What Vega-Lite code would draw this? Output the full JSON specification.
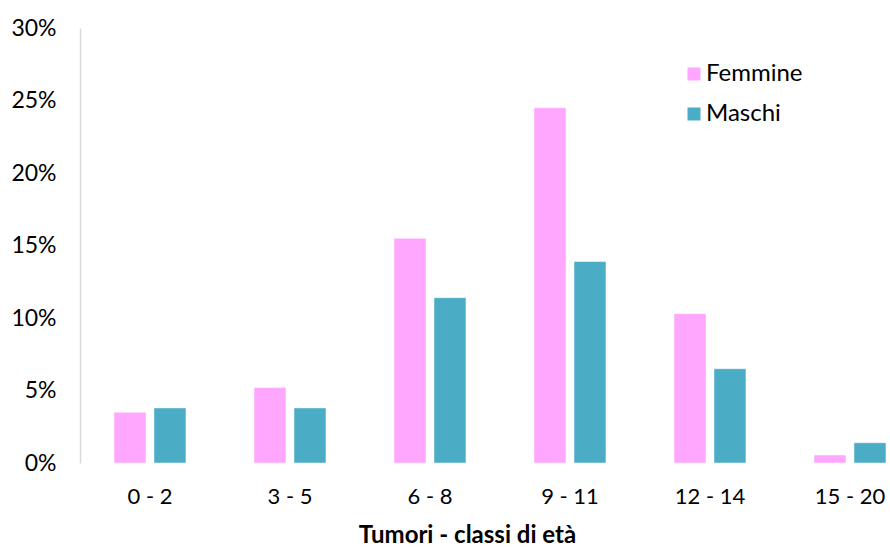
{
  "$schema": "https://vega.github.io/schema/vega-lite/v6.json",
  "autosize": "none",
  "padding": {"left": 80, "top": 28, "right": 0, "bottom": 84},
  "width": 840,
  "height": 435,
  "background": "white",
  "config": {
    "view": {"stroke": null},
    "font": "Lato",
    "axis": {"labelFont": "Lato", "titleFont": "Lato", "labelColor": "#000000", "titleColor": "#000000"}
  },
  "data": {
    "values": [
      {"classe": "0 - 2", "sesso": "Femmine", "valore": 0.035},
      {"classe": "0 - 2", "sesso": "Maschi", "valore": 0.038},
      {"classe": "3 - 5", "sesso": "Femmine", "valore": 0.052},
      {"classe": "3 - 5", "sesso": "Maschi", "valore": 0.038},
      {"classe": "6 - 8", "sesso": "Femmine", "valore": 0.155},
      {"classe": "6 - 8", "sesso": "Maschi", "valore": 0.114},
      {"classe": "9 - 11", "sesso": "Femmine", "valore": 0.245},
      {"classe": "9 - 11", "sesso": "Maschi", "valore": 0.139},
      {"classe": "12 - 14", "sesso": "Femmine", "valore": 0.103},
      {"classe": "12 - 14", "sesso": "Maschi", "valore": 0.065},
      {"classe": "15 - 20", "sesso": "Femmine", "valore": 0.0055},
      {"classe": "15 - 20", "sesso": "Maschi", "valore": 0.014}
    ]
  },
  "mark": {"type": "bar", "stroke": "#ffffff", "strokeOpacity": 0.5, "strokeWidth": 1},
  "encoding": {
    "x": {
      "field": "classe",
      "type": "nominal",
      "sort": null,
      "scale": {"paddingInner": 0.486, "paddingOuter": 0.243},
      "axis": {
        "title": "Tumori - classi di età",
        "titleFontWeight": "bold",
        "titleFontSize": 24,
        "titleX": 387,
        "titleY": 72,
        "titleAlign": "center",
        "titleBaseline": "middle",
        "labelAngle": 0,
        "labelFontSize": 22,
        "labelPadding": 23,
        "domain": false,
        "ticks": false
      }
    },
    "xOffset": {
      "field": "sesso",
      "type": "nominal",
      "scale": {"paddingInner": 0.2, "paddingOuter": 0}
    },
    "y": {
      "field": "valore",
      "type": "quantitative",
      "scale": {"domain": [0, 0.3], "nice": false},
      "axis": {
        "title": null,
        "format": ".0%",
        "values": [0, 0.05, 0.1, 0.15, 0.2, 0.25, 0.3],
        "grid": false,
        "ticks": false,
        "domainColor": "#d9d9d9",
        "domainWidth": 1.5,
        "labelFontSize": 23,
        "labelPadding": 24
      }
    },
    "color": {
      "field": "sesso",
      "type": "nominal",
      "scale": {"domain": ["Femmine", "Maschi"], "range": ["#FFA6FF", "#4BACC6"]},
      "legend": {
        "title": null,
        "orient": "none",
        "legendX": 602,
        "legendY": 34,
        "symbolType": "square",
        "symbolSize": 169,
        "symbolStrokeWidth": 0,
        "labelFontSize": 24,
        "labelFont": "Lato",
        "labelOffset": 0,
        "rowPadding": 16
      }
    }
  }
}
